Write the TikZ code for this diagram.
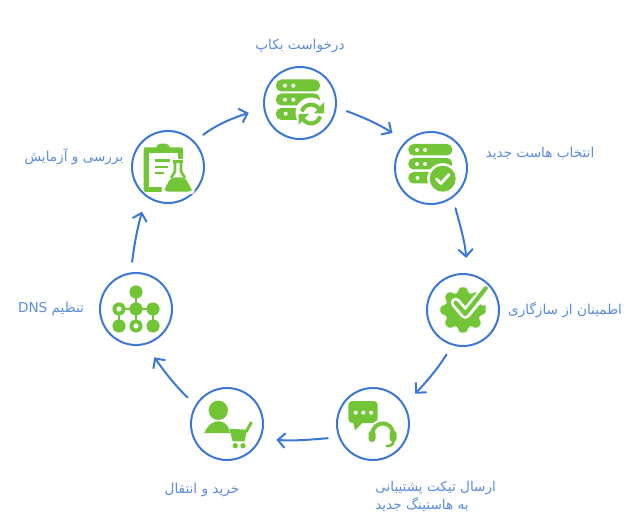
\documentclass[tikz,border=0pt]{standalone}
\usepackage{fontspec}
\newfontfamily\farsifont[Script=Arabic]{DejaVu Sans}
\TeXXeTstate=1
\usetikzlibrary{arrows.meta}
\definecolor{ringblue}{HTML}{3A78D8}
\definecolor{textblue}{HTML}{5A8CDC}
\definecolor{icongreen}{HTML}{72C536}

\begin{document}
\begin{tikzpicture}[x=0.75pt,y=-0.75pt,
    stepring/.style={circle,draw=ringblue,line width=1.5pt,minimum size=54pt,inner sep=0pt},
    steplabel/.style={text=textblue,font=\farsifont\fontsize{10.2}{13.5}\selectfont,align=left,inner sep=0pt},
    flow/.style={draw=ringblue,line width=1.5pt,line cap=round,shorten <=8pt,shorten >=11.5pt,
        -{Straight Barb[length=5.5pt,width=11pt,line width=1.5pt]}}]
    \useasboundingbox (0,0) rectangle (632,524);

    % rings
    \node[stepring] (backup) at (300,103) {};
    \node[stepring] (host) at (431,168) {};
    \node[stepring] (compat) at (463,310) {};
    \node[stepring] (ticket) at (373,424) {};
    \node[stepring] (buy) at (227,424) {};
    \node[stepring] (dns) at (136,309) {};
    \node[stepring] (test) at (168,167) {};

    % arrows
    \draw[flow] (backup.-7) to[out=-20,in=147] (host.134);
    \draw[flow] (host.-54) to[out=-75,in=93] (compat.84);
    \draw[flow] (compat.-107) to[out=-122,in=47] (ticket.31);
    \draw[flow] (ticket.201) to[out=185,in=-5] (buy.-23);
    \draw[flow] (buy.149) to[out=136,in=-55] (dns.-75);
    \draw[flow] (dns.98) to[out=83,in=-106] (test.-126);
    \draw[flow] (test.44) to[out=37,in=198] (backup.188);

    % labels
    \node[steplabel] (backuptext) at (300,46) {\beginR درخواست بکاپ\endR};
    \node[steplabel] (hosttext) at (540,153) {\beginR انتخاب هاست جدید\endR};
    \node[steplabel] (compattext) at (565,310) {\beginR اطمینان از سازگاری\endR};
    \node[steplabel,anchor=west] (tickettext) at (375,496) {\beginR ارسال تیکت پشتیبانی\endR\\\beginR به هاستینگ جدید\endR};
    \node[steplabel] (buytext) at (202,490) {\beginR خرید و انتقال\endR};
    \node[steplabel] (dnstext) at (51,309) {\beginR تنظیم \beginL DNS\endL\endR};
    \node[steplabel] (testtext) at (74,157) {\beginR بررسی و آزمایش\endR};

    % backup icon
    \begin{scope}[shift={(backup)}]
        \fill[icongreen,rounded corners=4pt] (-24,-23.5) rectangle (20,-11.5);
        \fill[icongreen,rounded corners=4pt] (-24,-9.5) rectangle (20,2.5);
        \fill[icongreen,rounded corners=4pt] (-24,5) rectangle (20,17);
        \foreach \dotx/\doty in {-15/-17.3,-6.7/-17.3,-15/-3.3,-6.7/-3.3,-14.3/10.7}
            \fill[white] (\dotx,\doty) circle (2);
        \fill[white] (11,10) circle (15.5);
        \draw[icongreen,line width=3pt] ([shift={(195:9.5)}]11,11) arc[start angle=195,end angle=330,radius=9.5];
        \draw[icongreen,line width=3pt] ([shift={(15:9.5)}]11,11) arc[start angle=15,end angle=150,radius=9.5];
        \fill[icongreen] (24,-1) -- (24,10.5) -- (14,10.5) -- cycle;
        \fill[icongreen] (-1.5,11) -- (9,11) -- (-1.5,22) -- cycle;
    \end{scope}

    % host icon
    \begin{scope}[shift={(host)}]
        \fill[icongreen,rounded corners=4pt] (-22.7,-24) rectangle (21.3,-12.5);
        \fill[icongreen,rounded corners=4pt] (-22.7,-10) rectangle (21.3,1.5);
        \fill[icongreen,rounded corners=4pt] (-22.7,4) rectangle (21.3,15.5);
        \foreach \dotx/\doty in {-14/-18,-6/-18,-14/-4,-6/-4,-13.5/10}
            \fill[white] (\dotx,\doty) circle (2);
        \fill[white] (11.7,10.7) circle (15.5);
        \fill[icongreen] (11.7,10.7) circle (13);
        \draw[white,line width=2.2pt,line cap=round,line join=round] (5.5,11) -- (10,15.5) -- (18,6.5);
    \end{scope}

    % compat icon
    \begin{scope}[shift={(compat)}]
        \fill[icongreen,rounded corners=1.5pt] (-10:23)
            \foreach \toothangle in {0,45,...,315} {
                -- (\toothangle+10:23) -- (\toothangle+17:17.5) -- (\toothangle+28:17.5) -- (\toothangle+35:23)
            } -- cycle;
        \draw[white,line width=7.5pt,line cap=round,line join=round] (-7.3,-7.3) -- (2.3,4) -- (19,-16);
        \draw[icongreen,line width=3.2pt,line cap=round,line join=round] (-7.3,-7.3) -- (2.3,4) -- (22.7,-21.7);
    \end{scope}

    % ticket icon
    \begin{scope}[shift={(ticket)}]
        \fill[icongreen,rounded corners=3pt] (-24.7,-23) rectangle (4.7,-1);
        \fill[icongreen] (-20,-2) -- (-18,6.3) -- (-9.7,-2) -- cycle;
        \foreach \dotx in {-17.3,-9.7,-2}
            \fill[white] (\dotx,-11.3) circle (2);
        \draw[white,line width=6pt] ([shift={(180:10.3)}]9.7,9.7) arc[start angle=180,end angle=360,radius=10.3];
        \draw[icongreen,line width=3pt] ([shift={(180:10.3)}]9.7,9.7) arc[start angle=180,end angle=360,radius=10.3];
        \fill[icongreen,rounded corners=2.5pt] (-4.5,6.5) rectangle (2.5,18);
        \fill[icongreen,rounded corners=2.5pt] (16.5,6.5) rectangle (23.5,18);
        \draw[icongreen,line width=2pt,line cap=round] (20.5,17) .. controls (20.5,21) and (17,22) .. (13.7,22);
    \end{scope}

    % buy icon
    \begin{scope}[shift={(buy)}]
        \fill[icongreen] (-8.7,-13.7) circle (9.7);
        \fill[icongreen] (-22.7,9) .. controls (-19,0) and (-13,-2.7) .. (-8.7,-2.7)
            .. controls (-5,-2.7) and (-1,-1) .. (1,3) -- (3,9) -- cycle;
        \fill[icongreen] (2.3,4.7) -- (20,5.7) -- (17.7,17.3) -- (5.7,17.3) -- cycle;
        \draw[icongreen,line width=2.2pt] (19,8) -- (24.5,-2);
        \fill[icongreen] (8.3,21.7) circle (2.7);
        \fill[icongreen] (16,21.7) circle (2.7);
    \end{scope}

    % dns icon
    \begin{scope}[shift={(dns)}]
        \draw[icongreen,line width=2pt] (0,-17) -- (0,17);
        \draw[icongreen,line width=2pt] (-17,17) -- (-17,0) -- (17,0) -- (17,17);
        \foreach \hubx/\huby in {0/-17,0/0,-17/0,17/0,-17/17,0/17,17/17}
            \fill[icongreen] (\hubx,\huby) circle (6.6);
        \fill[white] (-17,0) circle (2.6);
        \fill[white] (0,17) circle (2.6);
    \end{scope}

    % test icon
    \begin{scope}[shift={(test)}]
        \fill[icongreen,rounded corners=1.5pt] (-24.3,-19.7) rectangle (15,25);
        \fill[icongreen,rounded corners=3pt] (-11.7,-23.3) rectangle (1.7,-16);
        \fill[white] (-19,-14) rectangle (10,20);
        \fill[white] (10,-8) rectangle (16,25);
        \fill[white] (-6,20) rectangle (16,26);
        \foreach \liney/\lineend in {-6.3/1.7,0/0,6/-4.5}
            \draw[icongreen,line width=2pt] (-13.5,\liney) -- (\lineend,\liney);
        \fill[white,rounded corners=2pt] (2,-8) -- (18,-8) -- (17,3) -- (26.5,21) -- (26.5,27) -- (-6.5,27) -- (-6.5,21) -- (4,3) -- cycle;
        \draw[icongreen,line width=2pt,line join=round] (7,-5.7) -- (7,4.5) -- (3,11) (13,-5.7) -- (13,4.5) -- (17,11);
        \draw[icongreen,line width=2pt] (5,-5.7) -- (15,-5.7);
        \fill[icongreen,rounded corners=2.5pt] (3,10.5) -- (17,10.5) -- (23.5,22) -- (23.5,24.7) -- (-3.5,24.7) -- (-3.5,22) -- cycle;
    \end{scope}
\end{tikzpicture}
\end{document}
